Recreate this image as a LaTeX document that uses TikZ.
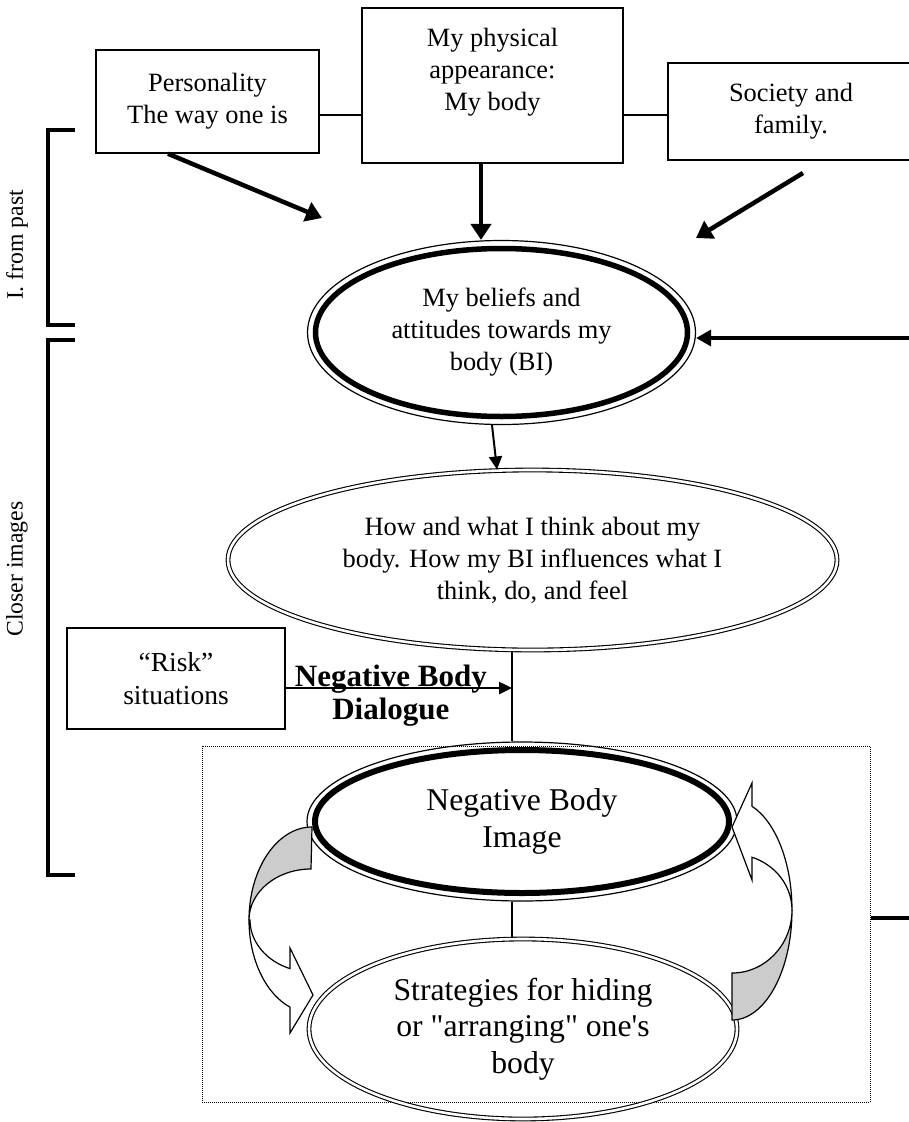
\documentclass[tikz,border=0pt]{standalone}
\usepackage{fontspec}
\setmainfont{Liberation Serif}
\usetikzlibrary{arrows.meta,shapes.geometric}

\newcommand{\bodyfont}{\fontsize{26.4}{32}\selectfont}
\newcommand{\riskfont}{\fontsize{27.5}{33}\selectfont}
\newcommand{\bigfont}{\fontsize{31.7}{36.5}\selectfont}
\newcommand{\dialfont}{\fontsize{31}{33}\selectfont\bfseries}
\newcommand{\sidefont}{\fontsize{23.7}{28}\selectfont}

\begin{document}
\begin{tikzpicture}[x=1pt,y=-1pt,
    tbox/.style={draw, line width=1.5pt, inner sep=0pt, align=center, font=\bodyfont},
    thickring/.style={ellipse, draw, line width=1.2pt, inner sep=0pt, align=center},
    dblring/.style={ellipse, draw, double, double distance=2.6pt, line width=1.1pt, inner sep=0pt, align=center},
    bigarrow/.style={line width=4.5pt, -{Triangle[length=16pt,width=20pt]}},
    thinarrow/.style={line width=2pt, -{Triangle[length=13pt,width=13pt]}},
    link/.style={line width=2.2pt},
    bracket/.style={line width=4.5pt},
    curvearrow/.style={draw, line width=1.2pt, line join=miter}]

    \useasboundingbox (0,0) rectangle (909,1122);

    % Drawing side labels and brackets
    \node[rotate=90, font=\sidefont] (past) at (17,245) {I. from past};
    \node[rotate=90, font=\sidefont] (closer) at (17,569) {Closer images};
    \draw[bracket] (75,130) -- (48,130) -- (48,325) -- (75,325);
    \draw[bracket] (75,340) -- (48,340) -- (48,875) -- (75,875);

    % Drawing the three boxes on top
    \node[tbox, minimum width=223pt, minimum height=103pt] (pers) at (207.5,101.5) {Personality\\The way one is};
    \node[tbox, minimum width=261pt, minimum height=155pt] (phys) at (492.5,85.5) {My physical\\appearance:\\My body\\~};
    \node[tbox, minimum width=246pt, minimum height=97pt] (soc) at (791,111.5) {Society and\\family.};

    % Drawing lines between boxes
    \coordinate (ylink) at (0,115);
    \draw[line width=1.5pt] (pers.east |- ylink) -- (phys.west |- ylink);
    \draw[line width=1.5pt] (phys.east |- ylink) -- (soc.west |- ylink);

    % Drawing ellipse beliefs
    \node[thickring, minimum width=388pt, minimum height=184pt, font=\bodyfont] (bel) at (501.5,332.5) {My beliefs and\\attitudes towards my\\body (BI)};
    \draw[line width=5.5pt] (bel.center) ellipse [x radius=186, y radius=84];

    % Drawing ellipse think
    \node[dblring, minimum width=609pt, minimum height=180pt, font=\bodyfont] (think) at (532.5,560) {How and what I think about my\\body. How my BI influences what I\\think, do, and feel};

    % Drawing box risk
    \node[tbox, minimum width=218pt, minimum height=101pt, font=\riskfont] (risk) at (176,678.5) {“Risk”\\situations};

    % Drawing dotted frame
    \node[draw, densely dotted, line width=1pt, minimum width=668pt, minimum height=356pt, inner sep=0pt] (loop) at (536,924) {};

    % Drawing ellipse negative body image
    \node[thickring, minimum width=430pt, minimum height=159pt, font=\bigfont] (nbi) at (522,821.5) {Negative Body\\Image};
    \draw[line width=6pt] (nbi.center) ellipse [x radius=207, y radius=71.5];

    % Drawing ellipse strategies
    \node[dblring, minimum width=428pt, minimum height=180pt, font=\bigfont] (strat) at (523,1029) {Strategies for hiding\\or \textquotedbl arranging\textquotedbl\ one\textquotesingle s\\body};

    % Drawing arrows into beliefs
    \coordinate (pend) at (322,218);
    \draw[bigarrow] ([xshift=-39.5pt]pers.south) -- (pend);
    \draw[bigarrow] ([xshift=-11.5pt]phys.south) -- ([xshift=-11.5pt]phys.south |- bel.north);
    \coordinate (sstart) at (803,173);
    \coordinate (send) at (696,238);
    \draw[bigarrow] (sstart) -- (send);
    \coordinate (rin) at (915,338);
    \draw[line width=3.5pt, -{Triangle[length=15pt,width=16pt]}] (rin) -- (rin -| bel.east);

    % Drawing beliefs to think
    \draw[thinarrow] ([xshift=-9.5pt]bel.south) -- ([xshift=-35.5pt]think.north);

    % Drawing dialogue line
    \coordinate (nbd) at (512,688);
    \draw[link] (think.south -| nbd) -- (nbi.north -| nbd);
    \draw[line width=2.5pt, -{Triangle[length=13pt,width=12pt]}] (risk.east |- nbd) -- node[font=\dialfont, align=center, xshift=-8pt, yshift=-7.5pt] (nbdlab) {Negative Body\\Dialogue} (nbd);
    \draw[link] (nbi.south -| nbd) -- (strat.north -| nbd);

    % Drawing line out of frame
    \coordinate (rout) at (915,918);
    \draw[line width=4pt] (loop.east |- rout) -- (rout);

    % Drawing left curved arrow
    \filldraw[curvearrow, fill=gray!40] (312,827) arc[start angle=-90, end angle=-180, x radius=63, y radius=93]
        arc[start angle=-180, end angle=-90, x radius=62, y radius=51] -- cycle;
    \filldraw[curvearrow, fill=white] (249,920) arc[start angle=-180, end angle=-249.6, x radius=63, y radius=93]
        -- (290,1033) -- (313,995) -- (290,948) -- (290,968.6)
        arc[start angle=-249.2, end angle=-180, x radius=62, y radius=52] -- cycle;

    % Drawing right curved arrow
    \filldraw[curvearrow, fill=gray!40] (732,1020) arc[start angle=90, end angle=0, x radius=60, y radius=110]
        arc[start angle=0, end angle=90, x radius=60, y radius=63] -- cycle;
    \filldraw[curvearrow, fill=white] (792,910) arc[start angle=0, end angle=-70.5, x radius=60, y radius=110]
        -- (752,783) -- (732,827) -- (752,880) -- (752,857.2)
        arc[start angle=-70.5, end angle=0, x radius=60, y radius=56] -- cycle;
\end{tikzpicture}
\end{document}
